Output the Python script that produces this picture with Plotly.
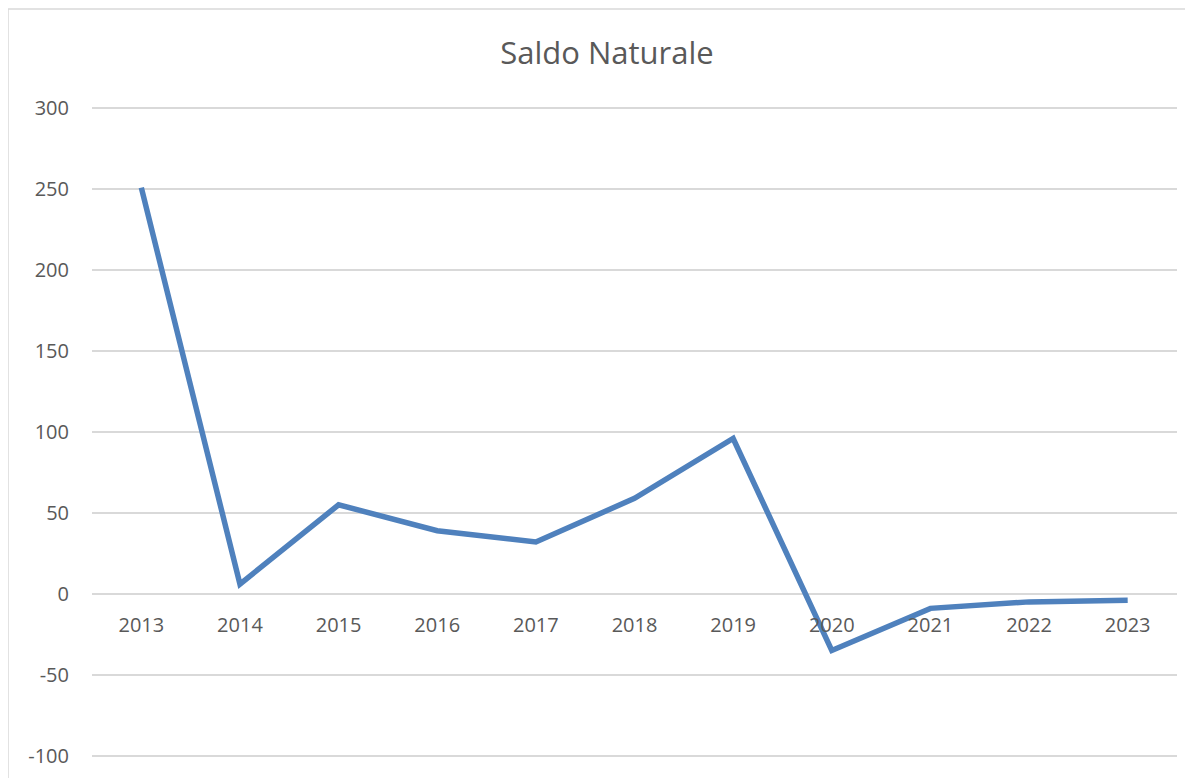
import plotly.graph_objects as go

years = ["2013", "2014", "2015", "2016", "2017", "2018", "2019", "2020", "2021", "2022", "2023"]
saldo = [251, 6, 55, 39, 32, 59, 96, -35, -9, -5, -4]
y_ticks = [-100, -50, 0, 50, 100, 150, 200, 250, 300]
y_tick_labels = ["-100", "-50", "0", "50", "100", "150", "200", "250", "300"]

# page body has an 8px margin, so figure coordinates = screen coordinates - 8
W, H = 1193, 778
L, R, T, B = 84, 24, 98, 28
pw, ph = W - L - R, H - T - B
y_lo, y_hi = -101.5, 301.5

fig = go.Figure()
fig.add_trace(go.Scatter(
    x=years, y=saldo, mode="lines",
    line=dict(color="#4f81bd", width=5.5),
    hoverinfo="x+y",
))

font = "Open Sans, Liberation Sans, sans-serif"
fig.update_layout(
    width=W, height=H,
    margin=dict(l=L, r=R, t=T, b=B),
    paper_bgcolor="white", plot_bgcolor="white",
    showlegend=False,
    title=dict(text="Saldo Naturale", x=599 / W, xanchor="center", y=1 - 45 / H, yanchor="middle",
               font=dict(family=font, size=31, color="#595959")),
    font=dict(family=font, size=20, color="#595959"),
    xaxis=dict(
        type="category", range=[-0.5, 10.5],
        anchor="free", position=(0 - y_lo) / (y_hi - y_lo),
        showgrid=False, zeroline=False, showline=False,
        ticks="", ticklabelstandoff=17,
        tickfont=dict(size=20, color="#595959"),
    ),
    yaxis=dict(
        range=[y_lo, y_hi], tickvals=y_ticks, ticktext=y_tick_labels,
        showgrid=True, gridcolor="#d9d9d9", gridwidth=1.5,
        zeroline=False, showline=False,
        ticks="", ticklabelstandoff=22,
        tickfont=dict(size=20, color="#595959"),
    ),
    shapes=[dict(
        type="rect", xref="paper", yref="paper",
        x0=(0 - L) / pw, x1=(W + 5 - L) / pw,
        y0=-(B + 5) / ph, y1=1 + (T - 1) / ph,
        line=dict(color="#d9d9d9", width=1.5), fillcolor="rgba(0,0,0,0)", layer="below",
    )],
)

fig.write_html("out.html")
